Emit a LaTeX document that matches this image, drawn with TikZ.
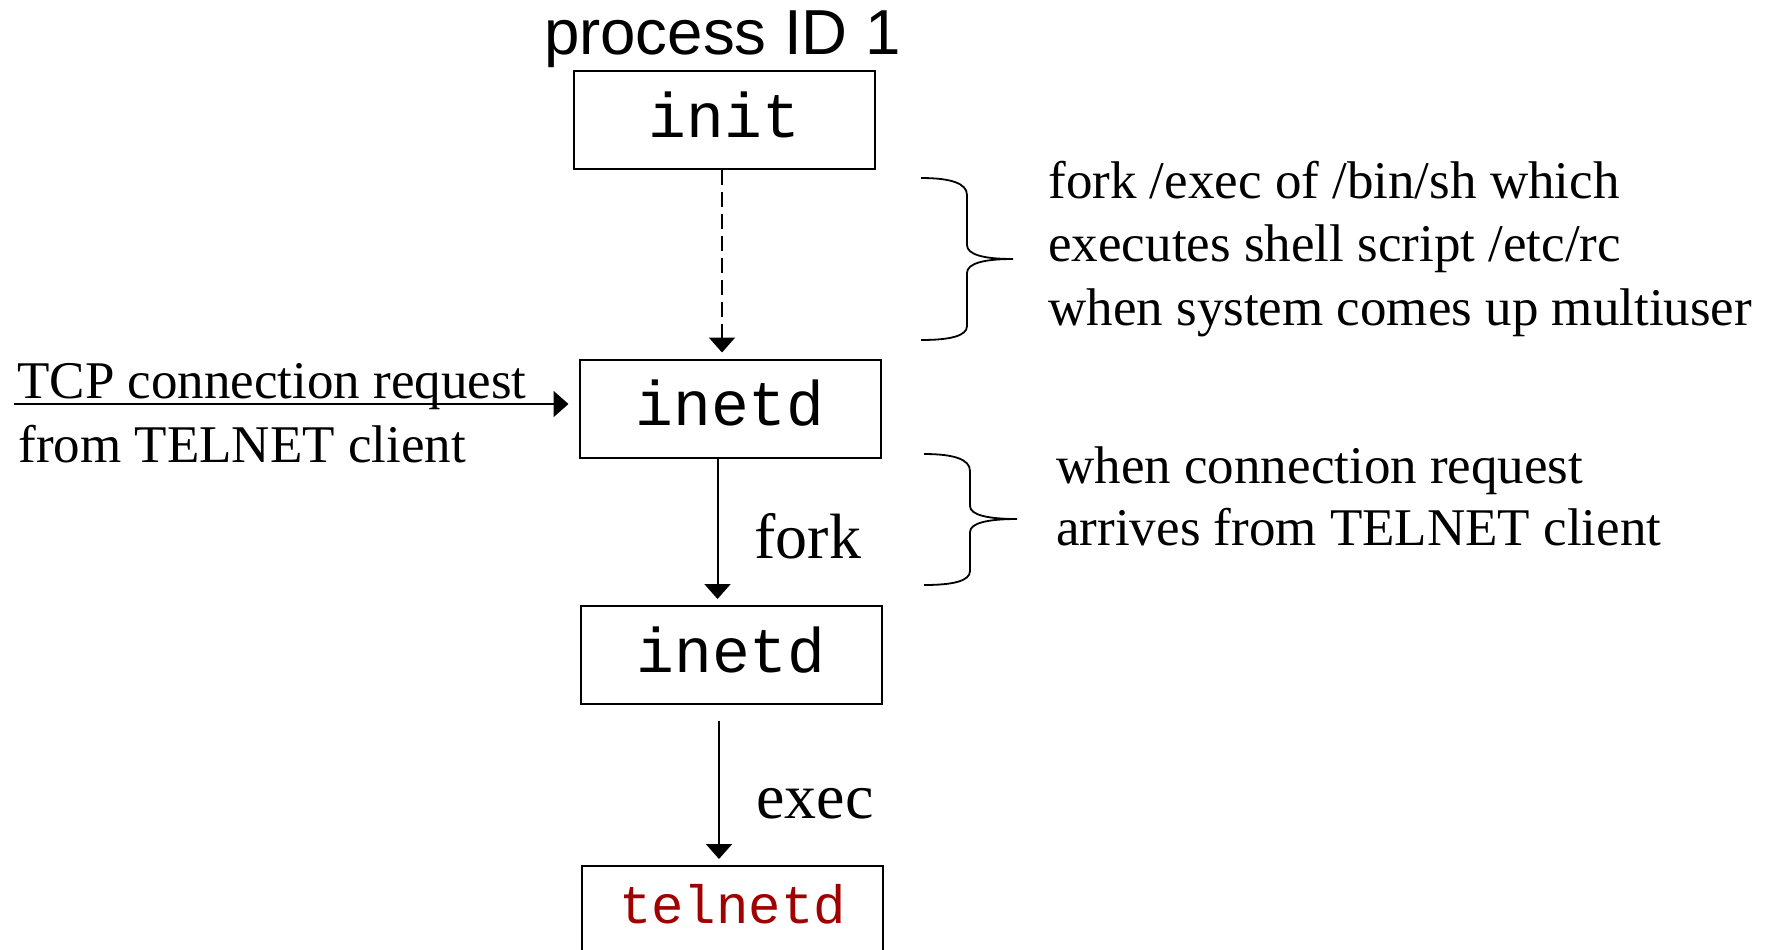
\documentclass[tikz,border=0pt]{standalone}
\usepackage{fontspec}
\setmainfont{Liberation Serif}
\setmonofont{Liberation Mono}
\newfontfamily\headfont{Liberation Sans}
\usetikzlibrary{arrows.meta}
\definecolor{telred}{RGB}{160,0,0}
\begin{document}
\begin{tikzpicture}[x=0.5pt,y=-0.5pt,
  procbox/.style={draw,line width=1pt,inner sep=0pt,minimum width=150.5pt,
    font=\ttfamily\fontsize{31.5pt}{36pt}\selectfont,text height=33pt,text depth=16pt},
  serif/.style={inner sep=0pt,font=\fontsize{26.5pt}{31.75pt}\selectfont},
  biglabel/.style={inner sep=0pt,anchor=base west,font=\fontsize{32pt}{38pt}\selectfont},
  flow/.style={line width=1pt,-{Triangle[width=13pt,length=7.5pt]}},
  bracepath/.style={line width=0.9pt}]
\useasboundingbox (0,0) rectangle (1774,949);
\clip (0,0) rectangle (1774,949);

% title over the first process
\node[inner sep=0pt,anchor=base,font=\headfont\fontsize{31.8pt}{36pt}\selectfont]
  (title) at (722.5,54) {process ID 1};

% processes
\node[procbox] (init)   at (724.5,120) {init};
\node[procbox] (inetdA) at (730,408.5) {inetd};
\node[procbox] (inetdB) at (731,655) {inetd};
\node[procbox,font=\ttfamily\fontsize{27pt}{32pt}\selectfont,
  text height=28.5pt,text depth=20.5pt,text=telred] (telnetd) at (732.5,915) {telnetd};

% init starts inetd
\draw[flow,dashed,dash pattern=on 7.5pt off 3.5pt,shorten >=3pt]
  ([xshift=-1.25pt]init.south) -- ([xshift=-1.25pt]init.south |- inetdA.north);

% fork and exec
\draw[flow,shorten >=3pt]
  ([xshift=-6.25pt]inetdA.south) -- ([xshift=-6.25pt]inetdA.south |- inetdB.north);
\node[biglabel] (forklbl) at (754,558) {fork};
\draw[flow,shorten <=8pt,shorten >=3pt]
  ([xshift=-6pt]inetdB.south) -- ([xshift=-6pt]inetdB.south |- telnetd.north);
\node[biglabel] (execlbl) at (756,818) {exec};

% incoming TCP connection request
\coordinate (tcpsrc) at (14,404);
\draw[flow,shorten >=5pt] (tcpsrc) -- (tcpsrc -| inetdA.west);
\node[serif,anchor=base west] (tcp1) at (17,398) {TCP connection request};
\node[serif,anchor=base west] (tcp2) at (18,462) {from TELNET client};

% first brace and note
\draw[bracepath] (921,178) .. controls (950,178) and (967,183) .. (967,195)
  -- (967,245) .. controls (967,255) and (985,259) .. (1013,259)
  .. controls (985,259) and (967,263) .. (967,273)
  -- (967,326) .. controls (967,336) and (950,340) .. (921,340);
\node[serif,anchor=base west] (noteA1) at (1048,198) {fork /exec of /bin/sh which};
\node[serif,anchor=base west] (noteA2) at (1048,261) {executes shell script /etc/rc};
\node[serif,anchor=base west] (noteA3) at (1048,325) {when system comes up multiuser};

% second brace and note
\draw[bracepath] (924,454) .. controls (953,454) and (970,459) .. (970,471)
  -- (970,506) .. controls (970,515) and (988,519) .. (1017,519)
  .. controls (988,519) and (970,523) .. (970,532)
  -- (970,571) .. controls (970,581) and (953,585) .. (924,585);
\node[serif,anchor=base west] (noteB1) at (1056,483) {when connection request};
\node[serif,anchor=base west] (noteB2) at (1056,545) {arrives from TELNET client};
\end{tikzpicture}
\end{document}
